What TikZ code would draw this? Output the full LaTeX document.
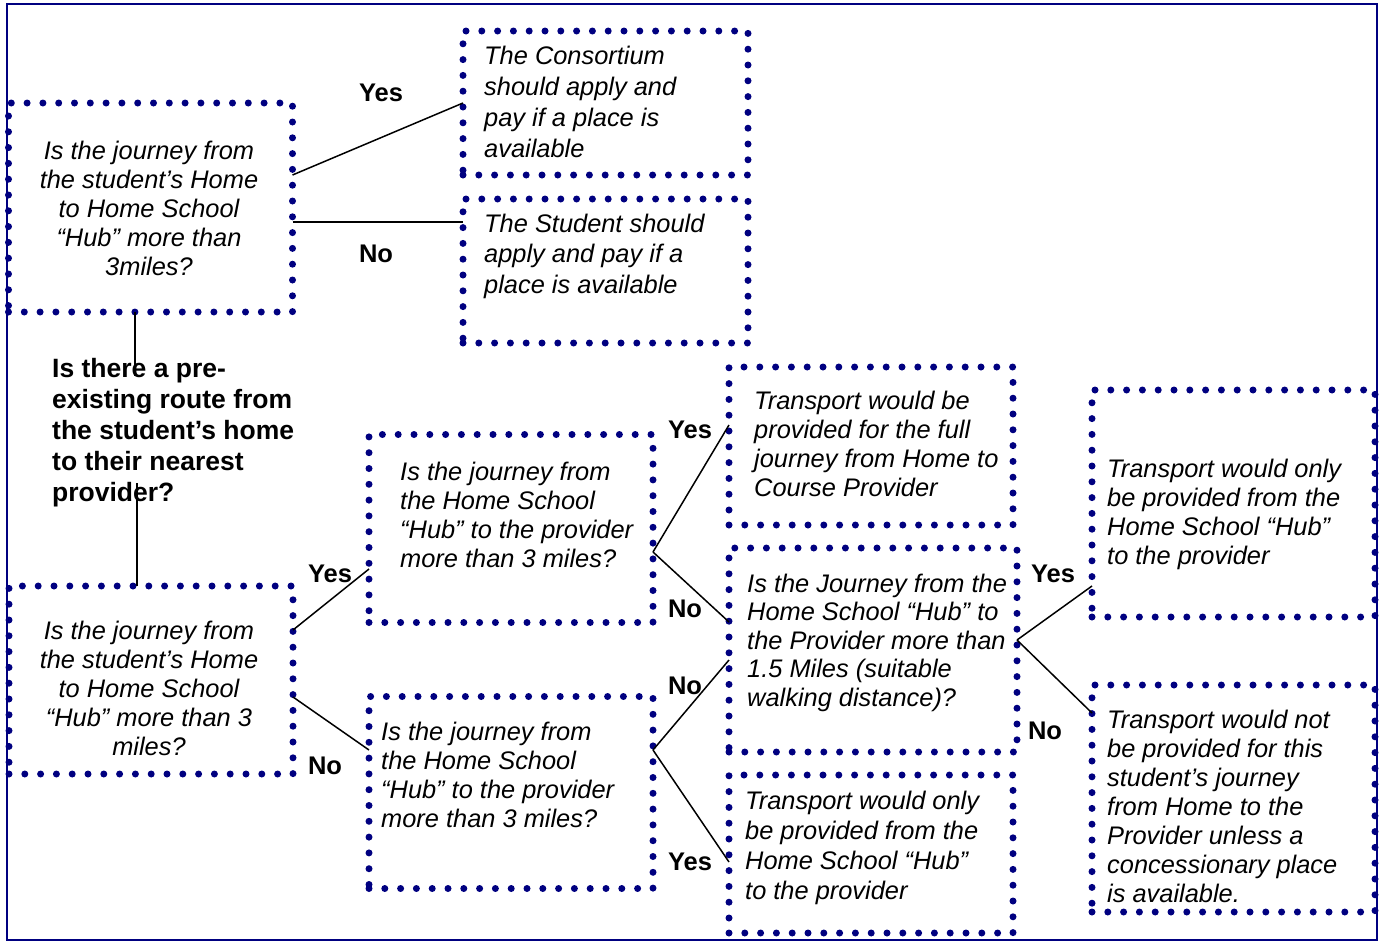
\documentclass[tikz,border=0pt]{standalone}
\usepackage{fontspec}
\setmainfont{Liberation Sans}
\definecolor{navy}{RGB}{0,0,128}
\tikzset{
  box/.style={draw=navy, line width=7pt, dash pattern=on 0pt off 15.8pt, line cap=round, inner sep=0pt, outer sep=0pt},
  txt/.style={inner sep=0pt, align=left, anchor=base west, font=\fontsize{25.4}{29}\selectfont\itshape},
  ctxt/.style={inner sep=0pt, align=center, anchor=base, font=\fontsize{25.4}{29}\selectfont\itshape},
  lab/.style={inner sep=0pt, font=\fontsize{25.5}{28}\selectfont\bfseries},
  conn/.style={line width=1.5pt, black},
}
\begin{document}
\begin{tikzpicture}[x=1pt,y=-1pt]
\useasboundingbox (0,0) rectangle (1385,945);
\draw[navy, line width=2.5pt] (7,4) rectangle (1377,940);

% boxes
\node[box, minimum width=284pt, minimum height=209pt] (b1) at (150.5,207.5) {};
\node[box, minimum width=285pt, minimum height=144pt] (b2) at (605.5,103) {};
\node[box, minimum width=285pt, minimum height=144pt] (b3) at (605.5,271) {};
\node[box, minimum width=284pt, minimum height=188pt] (b4) at (151,680) {};
\node[box, minimum width=284pt, minimum height=188pt] (b5) at (511,528.5) {};
\node[box, minimum width=284pt, minimum height=192pt] (b6) at (511,792.5) {};
\node[box, minimum width=284pt, minimum height=158pt] (b7) at (871,446) {};
\node[box, minimum width=288pt, minimum height=204pt] (b8) at (873,650) {};
\node[box, minimum width=284pt, minimum height=158pt] (b9) at (871,854) {};
\node[box, minimum width=283pt, minimum height=227pt] (b10) at (1233.5,503.5) {};
\node[box, minimum width=283pt, minimum height=227pt] (b11) at (1233.5,798.5) {};

% texts (anchored at the baseline of the last line)
\node[ctxt] (t1) at (149,275) {Is the journey from\\the student’s Home\\to Home School\\“Hub” more than\\3miles?};
\node[txt, font=\fontsize{25.4}{31}\selectfont\itshape] (t2) at (484,157) {The Consortium\\should apply and\\pay if a place is\\available};
\node[txt, font=\fontsize{25.4}{30.5}\selectfont\itshape] (t3) at (484,293) {The Student should\\apply and pay if a\\place is available};
\node[ctxt] (t4) at (149,755) {Is the journey from\\the student’s Home\\to Home School\\“Hub” more than 3\\miles?};
\node[txt] (t5) at (400,567) {Is the journey from\\the Home School\\“Hub” to the provider\\more than 3 miles?};
\node[txt] (t6) at (381,827) {Is the journey from\\the Home School\\“Hub” to the provider\\more than 3 miles?};
\node[txt] (t7) at (754,496) {Transport would be\\provided for the full\\journey from Home to\\Course Provider};
\node[txt, font=\fontsize{25.4}{28.6}\selectfont\itshape] (t8) at (747,706.4) {Is the Journey from the\\Home School “Hub” to\\the Provider more than\\1.5 Miles (suitable\\walking distance)?};
\node[txt, font=\fontsize{25.4}{29.7}\selectfont\itshape] (t9) at (745,899) {Transport would only\\be provided from the\\Home School “Hub”\\to the provider};
\node[txt] (t10) at (1107,564) {Transport would only\\be provided from the\\Home School “Hub”\\to the provider};
\node[txt] (t11) at (1107,902) {Transport would not\\be provided for this\\student’s journey\\from Home to the\\Provider unless a\\concessionary place\\is available.};

\node[inner sep=0pt, align=left, anchor=base west, font=\fontsize{26.5}{31}\selectfont\bfseries] (q) at (52,501) {Is there a pre-\\existing route from\\the student’s home\\to their nearest\\provider?};

% connectors
\draw[conn] (b1.east |- 0,175) -- (b2.west |- 0,103);
\draw[conn] (b1.east |- 0,222) -- (b3.west |- 0,222);
\coordinate (q1) at (135,376);
\coordinate (q2) at (137,483);
\draw[conn] (b1.south -| 135,0) -- (q1);
\draw[conn] (q2) -- (b4.north -| 137,0);
\draw[conn] (b4.east |- 0,630) -- (b5.west |- 0,569);
\draw[conn] (b4.east |- 0,697) -- (b6.west |- 0,750);
\draw[conn] (b5.east |- 0,552) -- (b7.west |- 0,425);
\draw[conn] (b5.east |- 0,552) -- (b8.west |- 0,622);
\draw[conn] (b6.east |- 0,750) -- (b8.west |- 0,660);
\draw[conn] (b6.east |- 0,750) -- (b9.west |- 0,862);
\draw[conn] (b8.east |- 0,640) -- (b10.west |- 0,586);
\draw[conn] (b8.east |- 0,640) -- (b11.west |- 0,713);

% labels
\node[lab] (l1) at (381,93) {Yes};
\node[lab] (l2) at (376,254) {No};
\node[lab] (l3) at (330,574) {Yes};
\node[lab] (l4) at (325,766) {No};
\node[lab] (l5) at (690,430) {Yes};
\node[lab] (l6) at (685,609) {No};
\node[lab] (l7) at (685,686) {No};
\node[lab] (l8) at (690,862) {Yes};
\node[lab] (l9) at (1053,574) {Yes};
\node[lab] (l10) at (1045,731) {No};
\end{tikzpicture}
\end{document}
